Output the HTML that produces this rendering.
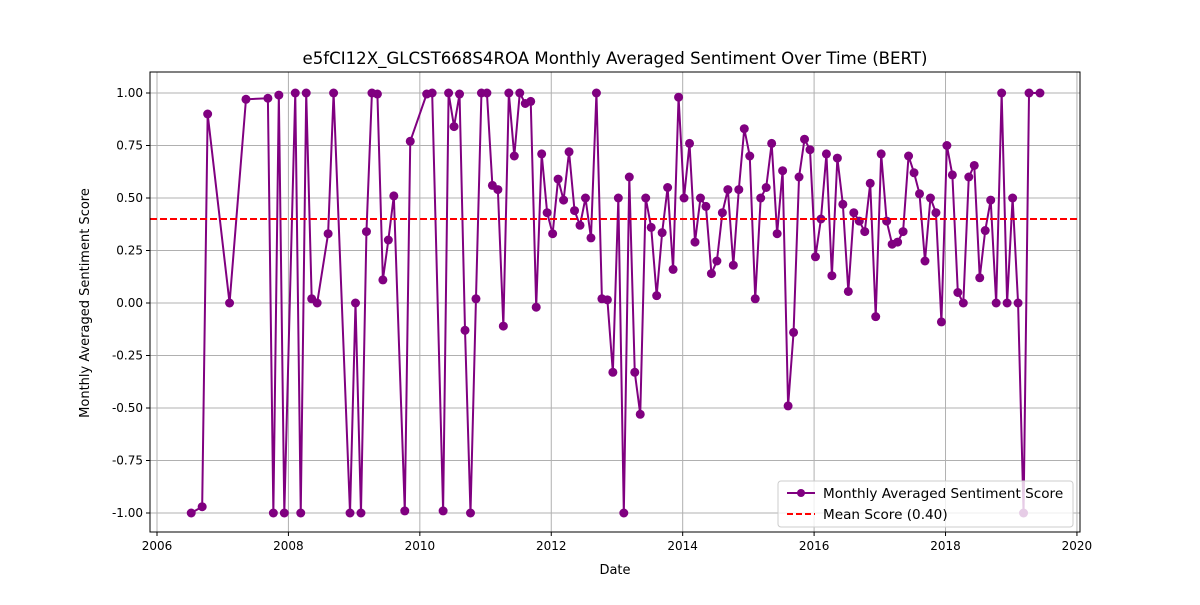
<!DOCTYPE html>
<html><head><meta charset="utf-8">
<style>
body{margin:0;background:#fff;font-family:"Liberation Sans","DejaVu Sans",sans-serif;}
svg text{font-family:"DejaVu Sans","Liberation Sans",sans-serif;}
</style></head>
<body>
<svg id="chart" width="1200" height="600" xmlns="http://www.w3.org/2000/svg">
<rect width="1200" height="600" fill="#fff"/>
<g id="grid"></g>
<g id="series"></g>
<g id="axes"></g>
<text x="615" y="64" text-anchor="middle" font-size="16.6">e5fCI12X_GLCST668S4ROA Monthly Averaged Sentiment Over Time (BERT)</text>
<text x="615" y="574" text-anchor="middle" font-size="13">Date</text>
<text transform="translate(89,303) rotate(-90)" text-anchor="middle" font-size="13">Monthly Averaged Sentiment Score</text>
<g>
<rect x="778" y="481" width="295" height="46" rx="3" fill="#fff" fill-opacity="0.8" stroke="#ccc"/>
<line x1="787" y1="493" x2="815" y2="493" stroke="purple" stroke-width="2"/>
<circle cx="801" cy="493" r="4" fill="purple"/>
<text x="823" y="498" font-size="13.6">Monthly Averaged Sentiment Score</text>
<line x1="787" y1="514" x2="815" y2="514" stroke="red" stroke-width="2" stroke-dasharray="6,3"/>
<text x="823" y="519" font-size="13.6">Mean Score (0.40)</text>
</g>
</svg>
<script>
const months=[6,8,9,13,16,20,21,22,23,25,26,27,28,29,31,32,35,36,37,38,39,40,41,42,43,45,46,49,50,52,53,54,55,56,57,58,59,60,61,62,63,64,65,66,67,68,69,70,71,72,73,74,75,76,77,78,79,80,81,82,83,84,85,86,87,88,89,90,91,92,93,94,95,96,97,98,99,100,101,102,103,104,105,106,107,108,109,110,111,112,113,114,115,116,117,118,119,120,121,122,123,124,125,126,127,128,129,130,131,132,133,134,135,136,137,138,139,140,141,142,143,144,145,146,147,148,149,150,151,152,153,154,155,156,157,158,159,161];
const scores=[-1.00,-0.97,0.90,0.00,0.97,0.975,-1.00,0.99,-1.00,1.00,-1.00,1.00,0.02,0.00,0.33,1.00,-1.00,0.00,-1.00,0.34,1.00,0.995,0.11,0.30,0.51,-0.99,0.77,0.995,1.00,-0.99,1.00,0.84,0.995,-0.13,-1.00,0.02,1.00,1.00,0.56,0.54,-0.11,1.00,0.70,1.00,0.95,0.96,-0.02,0.71,0.43,0.33,0.59,0.49,0.72,0.44,0.37,0.50,0.31,1.00,0.02,0.015,-0.33,0.50,-1.00,0.60,-0.33,-0.53,0.50,0.36,0.035,0.335,0.55,0.16,0.98,0.50,0.76,0.29,0.50,0.46,0.14,0.20,0.43,0.54,0.18,0.54,0.83,0.70,0.02,0.50,0.55,0.76,0.33,0.63,-0.49,-0.14,0.60,0.78,0.73,0.22,0.40,0.71,0.13,0.69,0.47,0.055,0.43,0.39,0.34,0.57,-0.065,0.71,0.39,0.28,0.29,0.34,0.70,0.62,0.52,0.20,0.50,0.43,-0.09,0.75,0.61,0.05,0.00,0.60,0.655,0.12,0.345,0.49,0.00,1.00,0.00,0.50,0.00,-1.00,1.00,1.00];
const meanScore=0.40;
const xTicks=[2006,2008,2010,2012,2014,2016,2018,2020];
const yTicks=[-1.00,-0.75,-0.50,-0.25,0.00,0.25,0.50,0.75,1.00];
const NS='http://www.w3.org/2000/svg';
const L=150,R=1080,T=72,B=532;
const xs=y=>157+(y-2006)*65.71;
const ys=v=>303-v*210;
function mk(tag,attrs,parent){const e=document.createElementNS(NS,tag);for(const k in attrs)e.setAttribute(k,attrs[k]);parent.appendChild(e);return e;}
const grid=document.getElementById('grid'),axes=document.getElementById('axes'),ser=document.getElementById('series');
xTicks.forEach(t=>{const x=xs(t);
 const g=mk('line',{x1:x,x2:x,y1:T,y2:B,stroke:'#b0b0b0','stroke-width':1},grid);
 
 
 mk('line',{x1:x,x2:x,y1:B,y2:B+4,stroke:'#000'},axes);
 const tx=mk('text',{x:x,y:B+18,'text-anchor':'middle','font-size':12},axes);tx.textContent=t;
 
 
});
yTicks.forEach(t=>{const y=ys(t);
 const g=mk('line',{x1:L,x2:R,y1:y,y2:y,stroke:'#b0b0b0','stroke-width':1},grid);
 
 
 mk('line',{x1:L-4,x2:L,y1:y,y2:y,stroke:'#000'},axes);
 const tx=mk('text',{x:L-7,y:y+4,'text-anchor':'end','font-size':12},axes);tx.textContent=t.toFixed(2);
 
 
});
mk('rect',{x:L,y:T,width:R-L,height:B-T,fill:'none',stroke:'#000','stroke-width':1},axes);
const pts=months.map((m,i)=>[xs(2006+(m+0.25)/12),ys(scores[i])]);
const pl=mk('polyline',{points:pts.map(p=>p.join(',')).join(' '),fill:'none',stroke:'purple','stroke-width':2},ser);


pts.forEach(p=>{const c=mk('circle',{cx:p[0],cy:p[1],r:4.5,fill:'purple'},ser);
 
 });
const ml=mk('line',{x1:L,x2:R,y1:ys(meanScore),y2:ys(meanScore),stroke:'red','stroke-width':2,'stroke-dasharray':'7,3'},ser);


</script>
</body></html>
